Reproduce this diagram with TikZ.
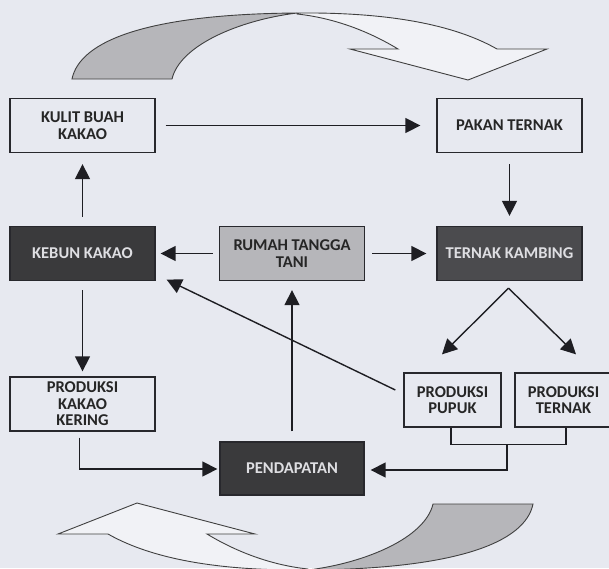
\documentclass[tikz,border=0pt]{standalone}
\usepackage{fontspec}
\setmainfont{Carlito}
\usetikzlibrary{arrows.meta,calc}
\definecolor{bg}{RGB}{231,233,240}
\definecolor{boxline}{RGB}{40,40,45}
\definecolor{linecol}{RGB}{30,30,35}
\definecolor{darkA}{RGB}{58,58,60}
\definecolor{darkB}{RGB}{75,75,78}
\definecolor{midgray}{RGB}{182,182,186}
\definecolor{ribbongray}{RGB}{182,182,186}
\definecolor{lighttext}{RGB}{222,222,226}
\newcommand\ribbonshape{%
  \filldraw[fill=ribbongray, draw=black!75, line width=0.9pt]
    (72,79) .. controls (80,40) and (150,14) .. (297,13)
    .. controls (240,20) and (180,45) .. (172,79) -- cycle;
  \filldraw[fill=bg!60!white, draw=black!75, line width=0.9pt]
    (297,13) .. controls (400,12) and (460,28) .. (497,49)
    -- (547,49) -- (468,80) -- (350,49) -- (398,49)
    .. controls (370,32) and (335,18) .. (297,14) -- cycle;
}
\begin{document}
\begin{tikzpicture}[x=1pt,y=-1pt,
  box/.style={draw=boxline, line width=1.3pt, minimum width=145pt, minimum height=54pt,
    inner sep=0pt, align=center, text=black!85,
    font=\bfseries\fontsize{16.5}{16.5}\selectfont},
  darkbox/.style={box, fill=darkA, text=lighttext},
  smallbox/.style={box, minimum width=97pt},
  conn/.style={line width=1.4pt, draw=linecol},
  arr/.style={conn, -{Triangle[length=15pt,width=15pt]}}]
\useasboundingbox (0,0) rectangle (609,568);
\fill[bg] (0,0) rectangle (609,568);
\begin{scope}
\clip (0,0) rectangle (609,568);
% curved ribbons
\ribbonshape
\begin{scope}[rotate around={180:(302.5,291.5)}]
\ribbonshape
\end{scope}
% nodes
\node[box] (kulit) at (82.5,125.5) {KULIT BUAH\\KAKAO};
\node[box] (pakan) at (509.5,125.5) {PAKAN TERNAK};
\node[darkbox] (kebun) at (82.5,253.5) {KEBUN KAKAO};
\node[box, fill=midgray] (rumah) at (292,253.5) {RUMAH TANGGA\\TANI};
\node[darkbox, fill=darkB] (ternak) at (509.5,253.5) {TERNAK KAMBING};
\node[box] (kering) at (82.5,404) {PRODUKSI\\KAKAO\\KERING};
\node[smallbox] (pupuk) at (452.5,400) {PRODUKSI\\PUPUK};
\node[smallbox] (pternak) at (563.5,400) {PRODUKSI\\TERNAK};
\node[darkbox, minimum width=144pt, minimum height=53pt] (pend) at (292,468.5) {PENDAPATAN};
% connectors
\draw[arr] ($(kulit.east)+(10,0)$) -- ($(pakan.west)+(-16,0)$);
\draw[arr] ($(pakan.south)+(0,11)$) -- ($(ternak.north)+(0,-10)$);
\draw[arr] ($(kebun.north)+(0,-9)$) -- ($(kulit.south)+(0,11)$);
\draw[arr] ($(rumah.west)+(-6,0)$) -- ($(kebun.east)+(5,0)$);
\draw[arr] ($(rumah.east)+(7,0)$) -- ($(ternak.west)+(-10,0)$);
\draw[arr] ($(kebun.south)+(0,9)$) -- ($(kering.north)+(0,-5)$);
\coordinate (apex) at ($(ternak.south)+(-1,7)$);
\draw[arr] (apex) -- ($(pupuk.north)+(-10.5,-18)$);
\draw[arr] (apex) -- ($(pternak.north)+(12.5,-18)$);
\draw[arr] ($(pupuk.west)+(-8,-10)$) -- ($(kebun.south east)+(11,-1.5)$);
\draw[arr] ($(kering.south)+(-3,6)$) |- ($(pend.west)+(-2,0.5)$);
\draw[arr] ($(pend.north)+(0,-10)$) -- ($(rumah.south)+(0,9)$);
\draw[conn] ($(pupuk.south)+(-1.5,0)$) |- ++(0,17) -| ($(pternak.south)+(2.5,0)$);
\coordinate (mid) at ($(pupuk.south)!0.5!(pternak.south)+(-1,17)$);
\draw[arr] (mid) |- ($(pend.east)+(6,1.5)$);
\end{scope}
\end{tikzpicture}
\end{document}
